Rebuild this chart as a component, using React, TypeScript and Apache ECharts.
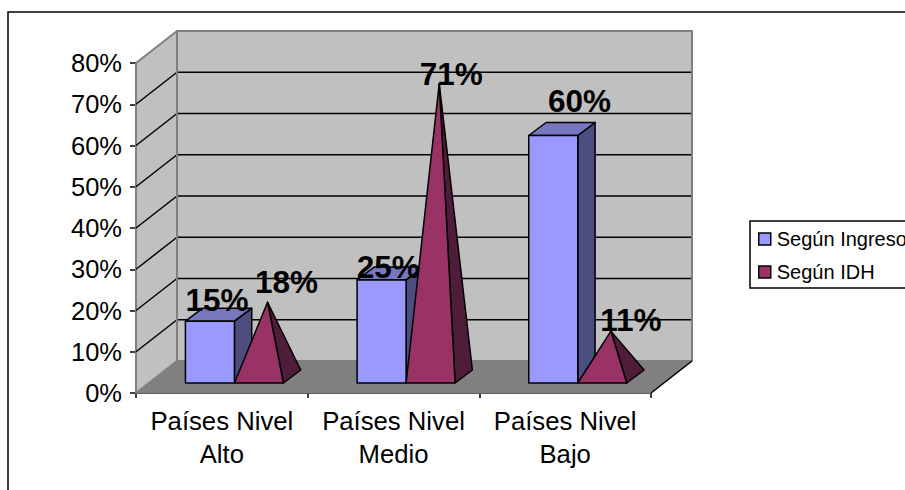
import { useEffect, useRef } from "react";
import * as echarts from "echarts";

// Chart content
const categories = ["Países Nivel\nAlto", "Países Nivel\nMedio", "Países Nivel\nBajo"];
const seriesNames = ["Según Ingreso", "Según IDH"];
const ingresoValues = [15, 25, 60];
const idhValues = [18, 71, 11];
const yTicks = [0, 10, 20, 30, 40, 50, 60, 70, 80];

// Oblique projection of the 3D box
const WALL_DX = 41;
const WALL_DY = -32;
const ROW_DX = 12.6;
const ROW_DY = -10;
const MARK_W = 49;
const MARK_DX = 17.3;
const MARK_DY = -13;

// Hand-placed value labels, relative to the top of each mark
const ingresoLabelNudge = [[-1.6, -15], [-2, -6], [17.7, -28]];
const idhLabelNudge = [[19, -20.5], [12, -10], [20, -11.5]];

const FONT = '"Liberation Sans", Arial, sans-serif';
const BLACK = "#000";
const wallColor = "#C0C0C0";
const wallEdge = "#808080";
const floorColor = "#808080";
const ingresoColors = { front: "#9999FF", top: "#7777C0", side: "#4D4D80" };
const idhColors = { front: "#993366", side: "#4F1C39" };

const valueLabel = (x: number, y: number, value: number) => ({
  type: "text",
  z2: 50,
  style: {
    x,
    y,
    text: `${value}%`,
    align: "center",
    verticalAlign: "middle",
    font: `bold 31.5px ${FONT}`,
    fill: "#000",
  },
});

const poly = (points: number[][], fill: string, stroke = BLACK, lineWidth = 1.5, z2 = 1) => ({
  type: "polygon",
  z2,
  shape: { points },
  style: { fill, stroke, lineWidth, lineJoin: "round" },
});

const seg = (a: number[], b: number[], stroke: string, lineWidth = 1.5) => ({
  type: "line",
  z2: 5,
  shape: { x1: a[0], y1: a[1], x2: b[0], y2: b[1] },
  style: { stroke, lineWidth },
});

// Back wall, side wall, floor and their gridlines
const renderBox = (_params: any, api: any) => {
  const at = (v: number) => api.coord([0, v])[1];
  const size = api.size([1, 0])[0];
  const left = api.coord([0, 0])[0] - size / 2;
  const right = left + size * categories.length;
  const top = at(yTicks[yTicks.length - 1]);
  const bottom = at(0);
  const dx = WALL_DX;
  const dy = WALL_DY;
  const children: any[] = [
    poly([[left + dx, top + dy], [right + dx, top + dy], [right + dx, bottom + dy], [left + dx, bottom + dy]], wallColor, wallEdge, 2),
    poly([[left, top], [left + dx, top + dy], [left + dx, bottom + dy], [left, bottom]], wallColor, wallEdge, 2),
    poly([[left, bottom], [left + dx, bottom + dy], [right + dx, bottom + dy], [right, bottom]], floorColor, floorColor, 1),
  ];
  yTicks.slice(1, -1).forEach((t) => {
    const y = at(t);
    children.push(seg([left, y], [left + dx, y + dy], BLACK));
    children.push(seg([left + dx, y + dy], [right + dx - 1, y + dy], BLACK));
  });
  children.push(seg([left + dx, top + dy], [left + dx, bottom + dy], wallEdge, 2));
  children.push(seg([right, bottom], [right + dx, bottom + dy], BLACK));
  return { type: "group", children };
};

const renderColumn = (_params: any, api: any) => {
  const [cx, topY] = api.coord([api.value(0), api.value(1)]);
  const [, baseY] = api.coord([api.value(0), 0]);
  const x1 = cx + ROW_DX - MARK_W;
  const x2 = cx + ROW_DX;
  const yb = baseY + ROW_DY;
  const yt = topY + ROW_DY;
  return {
    type: "group",
    children: [
      poly([[x2, yt], [x2 + MARK_DX, yt + MARK_DY], [x2 + MARK_DX, yb + MARK_DY], [x2, yb]], ingresoColors.side),
      poly([[x1, yt], [x1 + MARK_DX, yt + MARK_DY], [x2 + MARK_DX, yt + MARK_DY], [x2, yt]], ingresoColors.top),
      poly([[x1, yt], [x2, yt], [x2, yb], [x1, yb]], ingresoColors.front),
    ],
  };
};

const renderPyramid = (_params: any, api: any) => {
  const [cx, topY] = api.coord([api.value(0), api.value(1)]);
  const [, baseY] = api.coord([api.value(0), 0]);
  const x1 = cx + ROW_DX;
  const x2 = x1 + MARK_W;
  const yb = baseY + ROW_DY;
  const apex = [x1 + MARK_W / 2 + MARK_DX / 2, topY + ROW_DY + MARK_DY / 2];
  return {
    type: "group",
    children: [
      poly([apex, [x2, yb], [x2 + MARK_DX, yb + MARK_DY]], idhColors.side),
      poly([apex, [x1, yb], [x2, yb]], idhColors.front),
    ],
  };
};

const renderColumnLabel = (params: any, api: any) => {
  const [cx, topY] = api.coord([api.value(0), api.value(1)]);
  const [nx, ny] = ingresoLabelNudge[params.dataIndex];
  const x = cx + ROW_DX - MARK_W / 2 + MARK_DX / 2 + nx;
  const y = topY + ROW_DY + MARK_DY / 2 + ny;
  return valueLabel(x, y, api.value(1));
};

const renderPyramidLabel = (params: any, api: any) => {
  const [cx, topY] = api.coord([api.value(0), api.value(1)]);
  const [nx, ny] = idhLabelNudge[params.dataIndex];
  const x = cx + ROW_DX + MARK_W / 2 + MARK_DX / 2 + nx;
  const y = topY + ROW_DY + MARK_DY / 2 + ny;
  return valueLabel(x, y, api.value(1));
};

const toPairs = (values: number[]) => values.map((v, i) => [i, v]);

export default function App() {
  const ref = useRef<HTMLDivElement>(null);

  useEffect(() => {
    const chart = echarts.init(ref.current!, undefined, { renderer: "svg" });
    chart.setOption({
      animation: false,
      backgroundColor: "#fff",
      textStyle: { fontFamily: FONT },
      grid: { left: 136, top: 63, width: 515, height: 330 },
      legend: {
        orient: "vertical",
        left: 750,
        top: 221,
        padding: [6.5, 60, 4.5, 8],
        itemGap: 10,
        itemWidth: 12,
        itemHeight: 12,
        borderColor: "#000",
        borderWidth: 1.5,
        textStyle: { fontFamily: FONT, fontSize: 20, lineHeight: 23, color: "#000", padding: [0, 0, 0, 1] },
        data: [
          { name: seriesNames[0], icon: "rect", itemStyle: { color: ingresoColors.front, borderColor: "#000", borderWidth: 1.5 } },
          { name: seriesNames[1], icon: "rect", itemStyle: { color: idhColors.front, borderColor: "#000", borderWidth: 1.5 } },
        ],
      },
      graphic: [
        {
          type: "rect",
          silent: true,
          z: -1,
          shape: { x: 8, y: 12, width: 1000, height: 1000 },
          style: { fill: "none", stroke: "#000", lineWidth: 1.5 },
        },
      ],
      xAxis: {
        type: "category",
        data: categories,
        boundaryGap: true,
        axisLine: { lineStyle: { color: "#000", width: 1.5 } },
        axisTick: { show: true, length: 5, alignWithLabel: false, lineStyle: { color: "#000", width: 1.5 } },
        axisLabel: { color: "#000", fontFamily: FONT, fontSize: 25.7, lineHeight: 32.5, margin: 12, interval: 0 },
        splitLine: { show: false },
      },
      yAxis: {
        type: "value",
        min: 0,
        max: 80,
        interval: 10,
        axisLine: { show: true, lineStyle: { color: "#000", width: 1.5 } },
        axisTick: { show: true, length: 6, lineStyle: { color: "#000", width: 1.5 } },
        axisLabel: { color: "#000", fontFamily: FONT, fontSize: 25.5, margin: 14, formatter: "{value}%" },
        splitLine: { show: false },
      },
      series: [
        { type: "custom", name: "box", silent: true, z: 1, coordinateSystem: "cartesian2d", data: [[0, 0]], renderItem: renderBox },
        { type: "custom", name: seriesNames[0], z: 2, coordinateSystem: "cartesian2d", data: toPairs(ingresoValues), encode: { x: 0, y: 1 }, itemStyle: { color: ingresoColors.front }, renderItem: renderColumn },
        { type: "custom", name: seriesNames[1], z: 3, coordinateSystem: "cartesian2d", data: toPairs(idhValues), encode: { x: 0, y: 1 }, itemStyle: { color: idhColors.front }, renderItem: renderPyramid },
        { type: "custom", name: "ingresoLabels", silent: true, z: 4, coordinateSystem: "cartesian2d", data: toPairs(ingresoValues), encode: { x: 0, y: 1 }, renderItem: renderColumnLabel },
        { type: "custom", name: "idhLabels", silent: true, z: 4, coordinateSystem: "cartesian2d", data: toPairs(idhValues), encode: { x: 0, y: 1 }, renderItem: renderPyramidLabel },
      ],
    });
    return () => chart.dispose();
  }, []);

  return <div ref={ref} style={{ position: "fixed", left: 0, top: 0, width: 905, height: 490 }} />;
}
